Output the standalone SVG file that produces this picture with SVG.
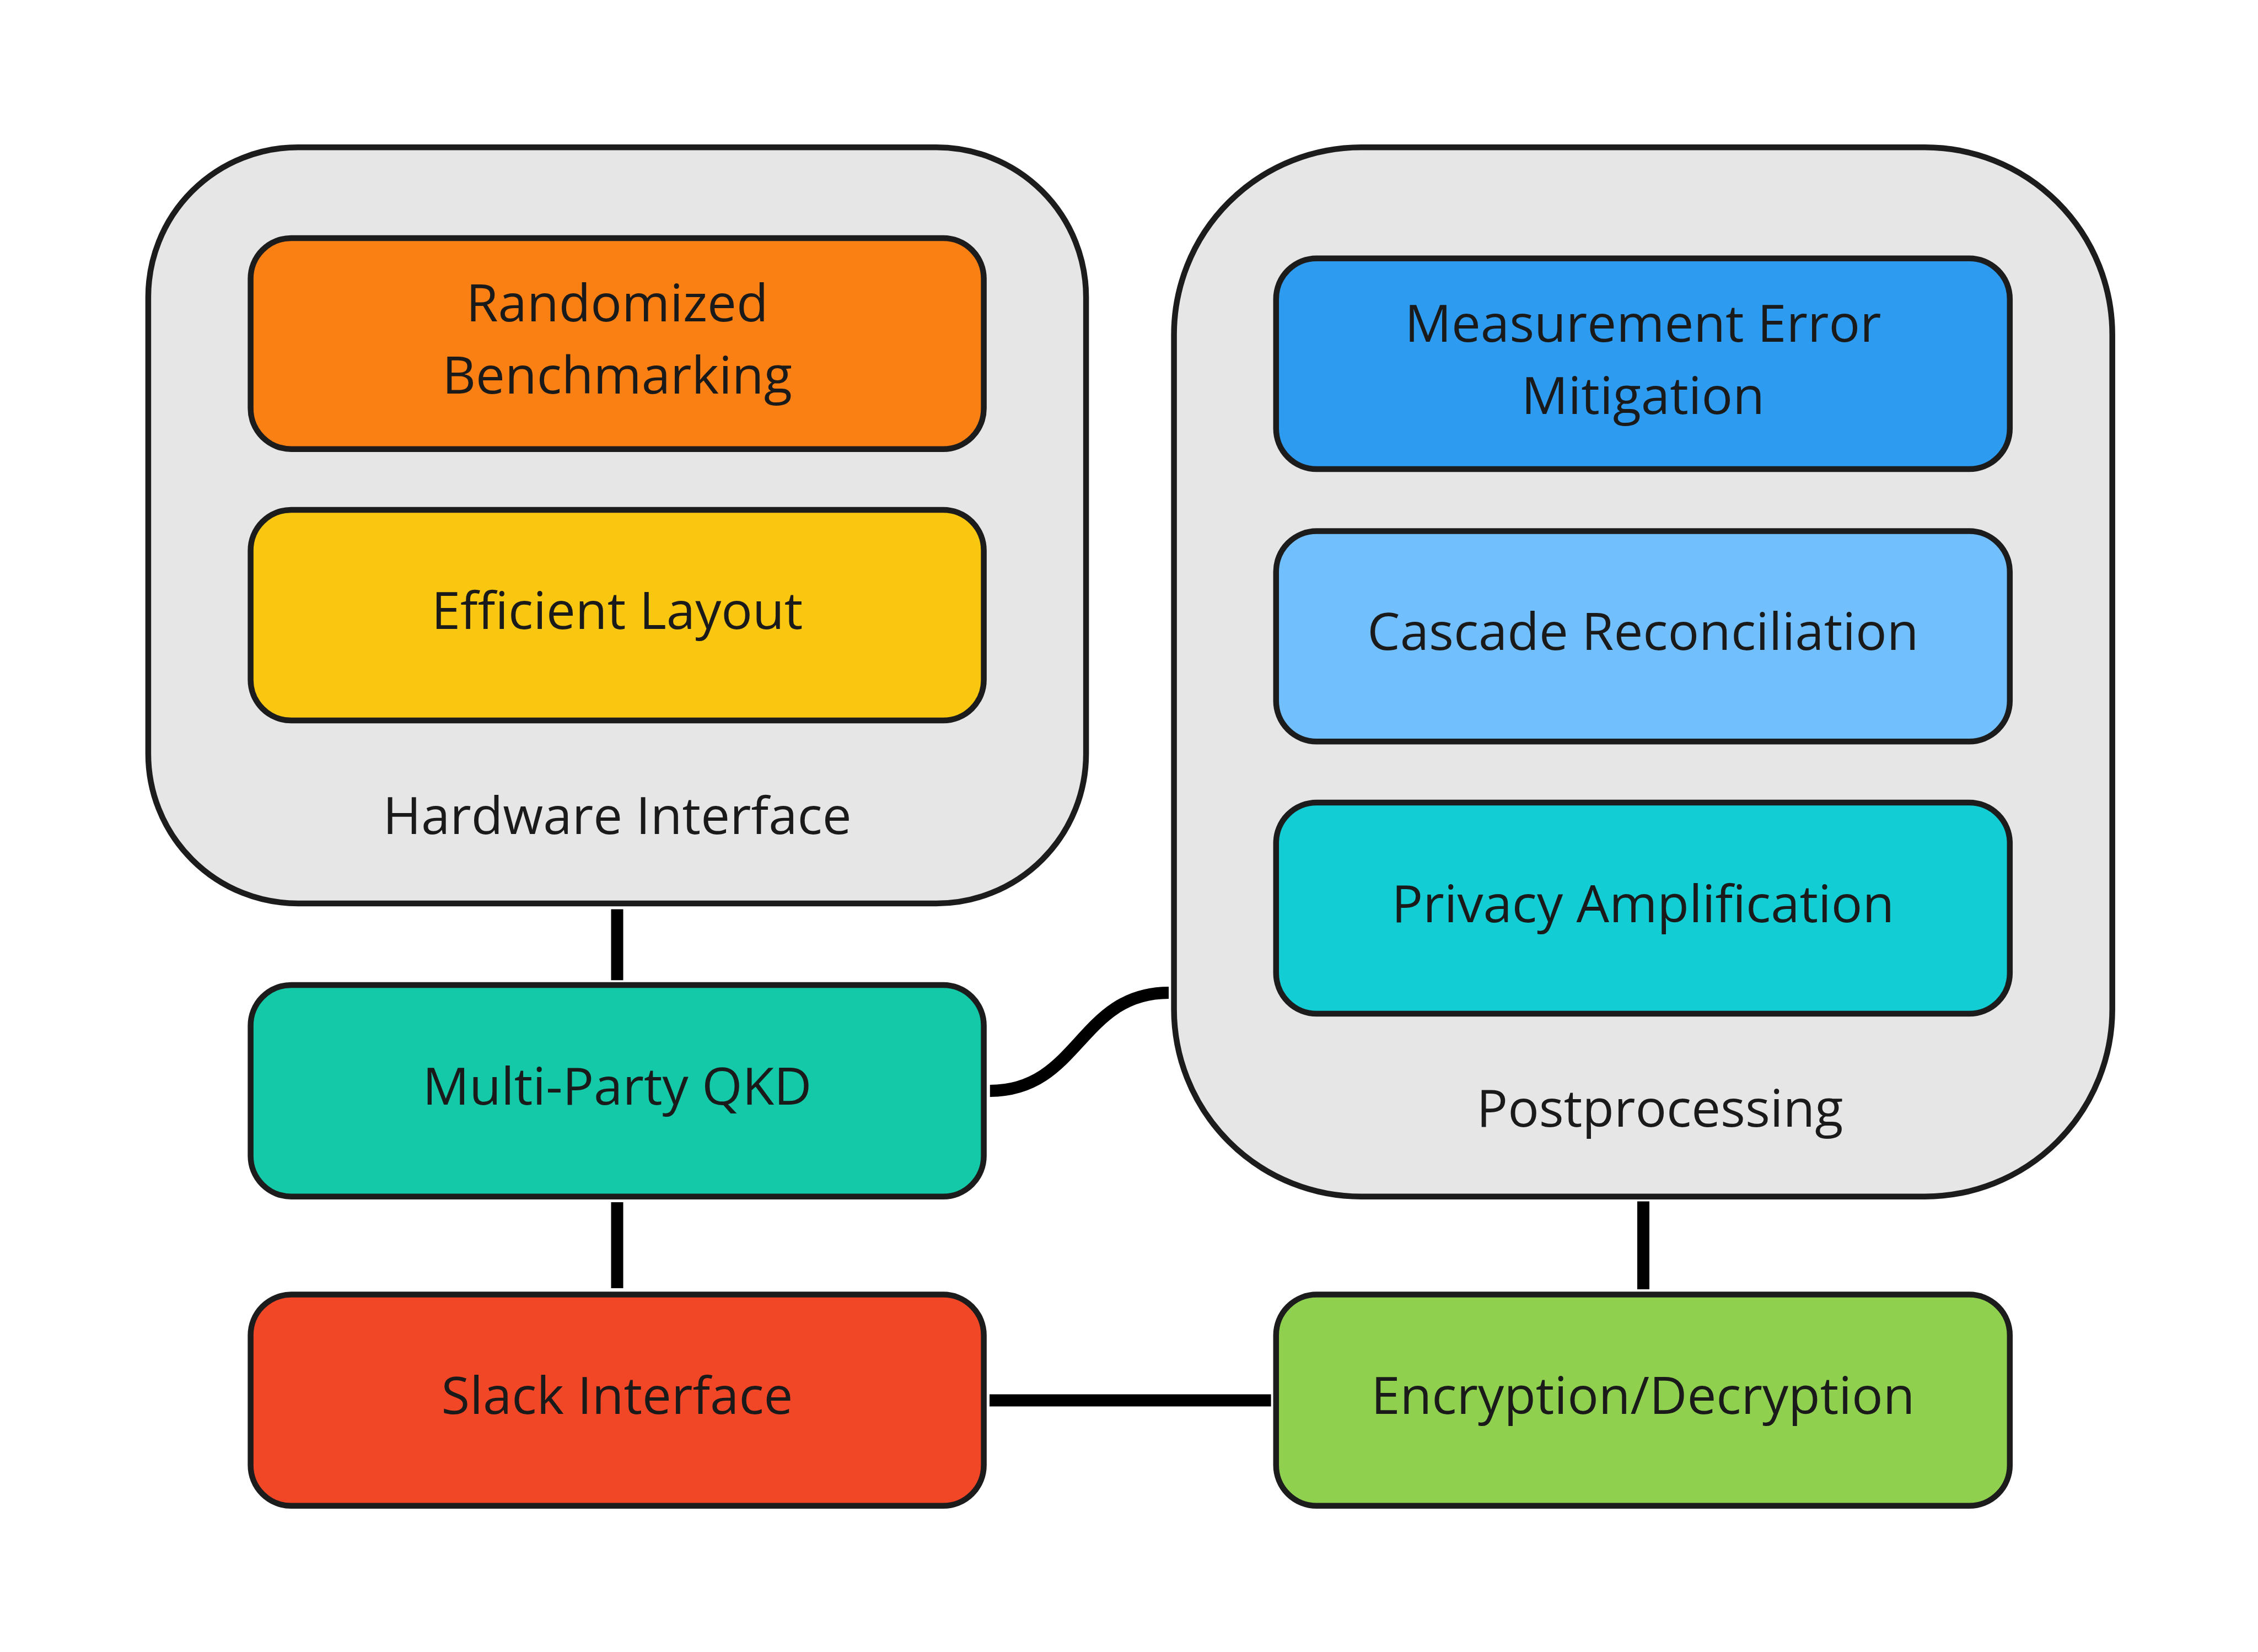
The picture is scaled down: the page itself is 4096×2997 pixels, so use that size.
<svg xmlns="http://www.w3.org/2000/svg" width="4096" height="2997" viewBox="0 0 4096 2997">
<style>
.container{fill:#e6e6e6;stroke:#1c1c1c;stroke-width:10.5}
.node{stroke:#1c1c1c;stroke-width:10.5}
.lbl{font-family:"Open Sans","Noto Sans","Liberation Sans",sans-serif;font-size:94.2px;fill:#1a1a1a;text-anchor:middle}
.conn{fill:none;stroke:#000000;stroke-width:22;stroke-linecap:butt}
</style>
<rect width="4096" height="2997" fill="#ffffff"/>
<g id="hardware-interface">
<rect class="container" x="268.9" y="267.2" width="1701.2" height="1371.8" rx="271.6" ry="271.6"/>
<text class="lbl" x="1119.5" y="1513">Hardware Interface</text>
</g>
<g id="postprocessing">
<rect class="container" x="2129.6" y="267.2" width="1702.1" height="1903.5" rx="340" ry="340"/>
<text class="lbl" x="3011" y="2044">Postprocessing</text>
</g>
<g id="randomized-benchmarking">
<rect class="node" x="454.6" y="431.9" width="1330" height="382.8" rx="73.6" ry="73.6" fill="#fa8014"/>
<text class="lbl" x="1119.5" y="583">Randomized</text>
<text class="lbl" x="1119.5" y="714.4">Benchmarking</text>
</g>
<g id="efficient-layout">
<rect class="node" x="454.6" y="925" width="1330" height="382" rx="73.6" ry="73.6" fill="#fac710"/>
<text class="lbl" x="1119.5" y="1141">Efficient Layout</text>
</g>
<g id="multi-party-qkd">
<rect class="node" x="454.6" y="1787" width="1330" height="383.7" rx="73.6" ry="73.6" fill="#14c9a7"/>
<text class="lbl" x="1119.5" y="2004">Multi-Party QKD</text>
</g>
<g id="slack-interface">
<rect class="node" x="454.6" y="2348.6" width="1330" height="383.2" rx="73.6" ry="73.6" fill="#f24726"/>
<text class="lbl" x="1119.5" y="2565.2">Slack Interface</text>
</g>
<g id="measurement-error-mitigation">
<rect class="node" x="2314.8" y="468.7" width="1331" height="382.3" rx="73.6" ry="73.6" fill="#2d9bf0"/>
<text class="lbl" x="2980.4" y="619.6">Measurement Error</text>
<text class="lbl" x="2980.4" y="751">Mitigation</text>
</g>
<g id="cascade-reconciliation">
<rect class="node" x="2314.8" y="963.6" width="1331" height="381.6" rx="73.6" ry="73.6" fill="#71bffd"/>
<text class="lbl" x="2980.4" y="1179.4">Cascade Reconciliation</text>
</g>
<g id="privacy-amplification">
<rect class="node" x="2314.8" y="1456" width="1331" height="383" rx="73.6" ry="73.6" fill="#12cdd4"/>
<text class="lbl" x="2980.4" y="1672.5">Privacy Amplification</text>
</g>
<g id="encryption-decryption">
<rect class="node" x="2314.8" y="2348.6" width="1331" height="383.2" rx="73.6" ry="73.6" fill="#8fd14f"/>
<text class="lbl" x="2980.4" y="2565.2">Encryption/Decryption</text>
</g>
<g id="connectors">
<path class="conn" d="M1119.5 1649.5 V1778.3"/>
<path class="conn" d="M1119.5 2181 V2337"/>
<path class="conn" d="M2981 2179.5 V2339"/>
<path class="conn" d="M1795 2540.4 H2305.6"/>
<path class="conn" d="M1795.8 1978.9 C1958 1978.9 1958 1801 2120 1801"/>
</g>
</svg>
